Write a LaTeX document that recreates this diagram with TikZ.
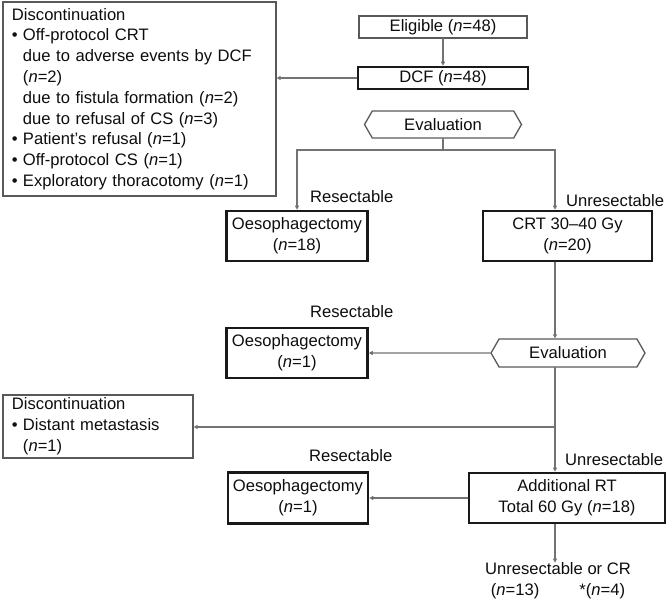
\documentclass[tikz,border=0pt]{standalone}
\usepackage{fontspec}
\setmainfont{Liberation Sans}
\usetikzlibrary{arrows.meta,shapes.symbols}

\newcommand{\listdot}{\makebox[11pt][l]{\textbullet}}
\newcommand{\listindent}{\hspace*{11pt}}

\begin{document}
\begin{tikzpicture}
		[x=1pt,y=-1pt,line cap=round,
		font=\fontsize{16.6}{20.8}\selectfont,
		%Styles
		thin box/.style={draw=boxgray,line width=1.3pt,inner sep=0pt,align=center,text=textcolor},
		thick box/.style={draw=black!90,line width=2.6pt,inner sep=0pt,align=center,text=textcolor},
		list box/.style={draw=boxgray,line width=1.3pt,inner xsep=9pt,inner ysep=0pt,align=left,text=textcolor},
		eval box/.style={signal,signal to=west and east,signal pointer angle=120,draw=boxgray,line width=1.3pt,inner sep=0pt,text=textcolor},
		branch label/.style={inner sep=0pt,anchor=west,text=textcolor},
		plain line/.style={draw=linegray,line width=1.2pt},
		arrow line/.style={plain line,-{Triangle[length=4pt,width=4pt]}}
		]
		
		%Colors
		\colorlet{boxgray}{black!65}
		\colorlet{linegray}{black!55}
		\colorlet{textcolor}{black!95}
		
		\useasboundingbox (0,0) rectangle (667,601);
		
		% main column
		\node[thin box,minimum width=168,minimum height=22] (elig) at (443,27) {Eligible (\textit{n}=48)};
		\node[thick box,minimum width=170,minimum height=22] (dcf) at (443,78) {DCF (\textit{n}=48)};
		\node[eval box,minimum width=157,minimum height=27] (eval1) at (443,124.5) {Evaluation};
		
		\node[list box,text width=255,minimum height=194] (disc1) at (139.5,99) {Discontinuation\\
			\listdot Off-protocol CRT\\
			\listindent due to adverse events by DCF\\
			\listindent (\textit{n}=2)\\
			\listindent due to fistula formation (\textit{n}=2)\\
			\listindent due to refusal of CS (\textit{n}=3)\\
			\listdot Patient's refusal (\textit{n}=1)\\
			\listdot Off-protocol CS (\textit{n}=1)\\
			\listdot Exploratory thoracotomy (\textit{n}=1)};
		
		\coordinate (split1) at (443,150);
		\coordinate (spine) at (555,150);
		
		\node[thick box,minimum width=141,minimum height=50] (oes1) at (297,236) {Oesophagectomy\\(\textit{n}=18)};
		\node[thick box,minimum width=169,minimum height=50] (crt) at (567.5,236) {CRT 30--40 Gy\\(\textit{n}=20)};
		\node[branch label] (res1) at (310,197) {Resectable};
		\node[branch label] (unres1) at (566,201) {Unresectable};
		
		\node[eval box,minimum width=154,minimum height=28] (eval2) at (568,353) {Evaluation};
		\node[thick box,minimum width=141,minimum height=50] (oes2) at (297,353) {Oesophagectomy\\(\textit{n}=1)};
		\node[branch label] (res2) at (310,312) {Resectable};
		
		\node[list box,text width=172,minimum height=63] (disc2) at (98,426.5) {Discontinuation\\
			\listdot Distant metastasis\\
			\listindent(\textit{n}=1)};
		\coordinate (split2) at (555,427);
		
		\node[thick box,minimum width=140,minimum height=51] (oes3) at (298,498) {Oesophagectomy\\(\textit{n}=1)};
		\node[thick box,minimum width=196,minimum height=50] (addrt) at (567,498) {Additional RT\\Total 60 Gy (\textit{n}=18)};
		\node[branch label] (res3) at (309,456) {Resectable};
		\node[branch label] (unres3) at (565,460) {Unresectable};
		
		\node[inner sep=0pt,align=center,text=textcolor] (result) at (558,581) {Unresectable or CR\\(\textit{n}=13)\hspace{40pt}*(\textit{n}=4)};
		
		% connectors
		\path[arrow line]
			(elig) edge (dcf)
			(eval2) edge (oes2)
			(addrt) edge (oes3);
		\draw[arrow line] (dcf.west) -- (dcf.west -| disc1.east);
		\draw[plain line] (eval1.south) -- (split1);
		\draw[arrow line] (split1) -| (oes1.north);
		\draw[arrow line] (split1) -| (spine |- crt.north);
		\draw[arrow line] (spine |- crt.south) -- (spine |- eval2.north);
		\draw[arrow line] (spine |- eval2.south) -- (spine |- addrt.north);
		\draw[arrow line] (split2) -- (split2 -| disc2.east);
		\draw[arrow line] (spine |- addrt.south) -- (spine |- result.north);
	\end{tikzpicture}
\end{document}
